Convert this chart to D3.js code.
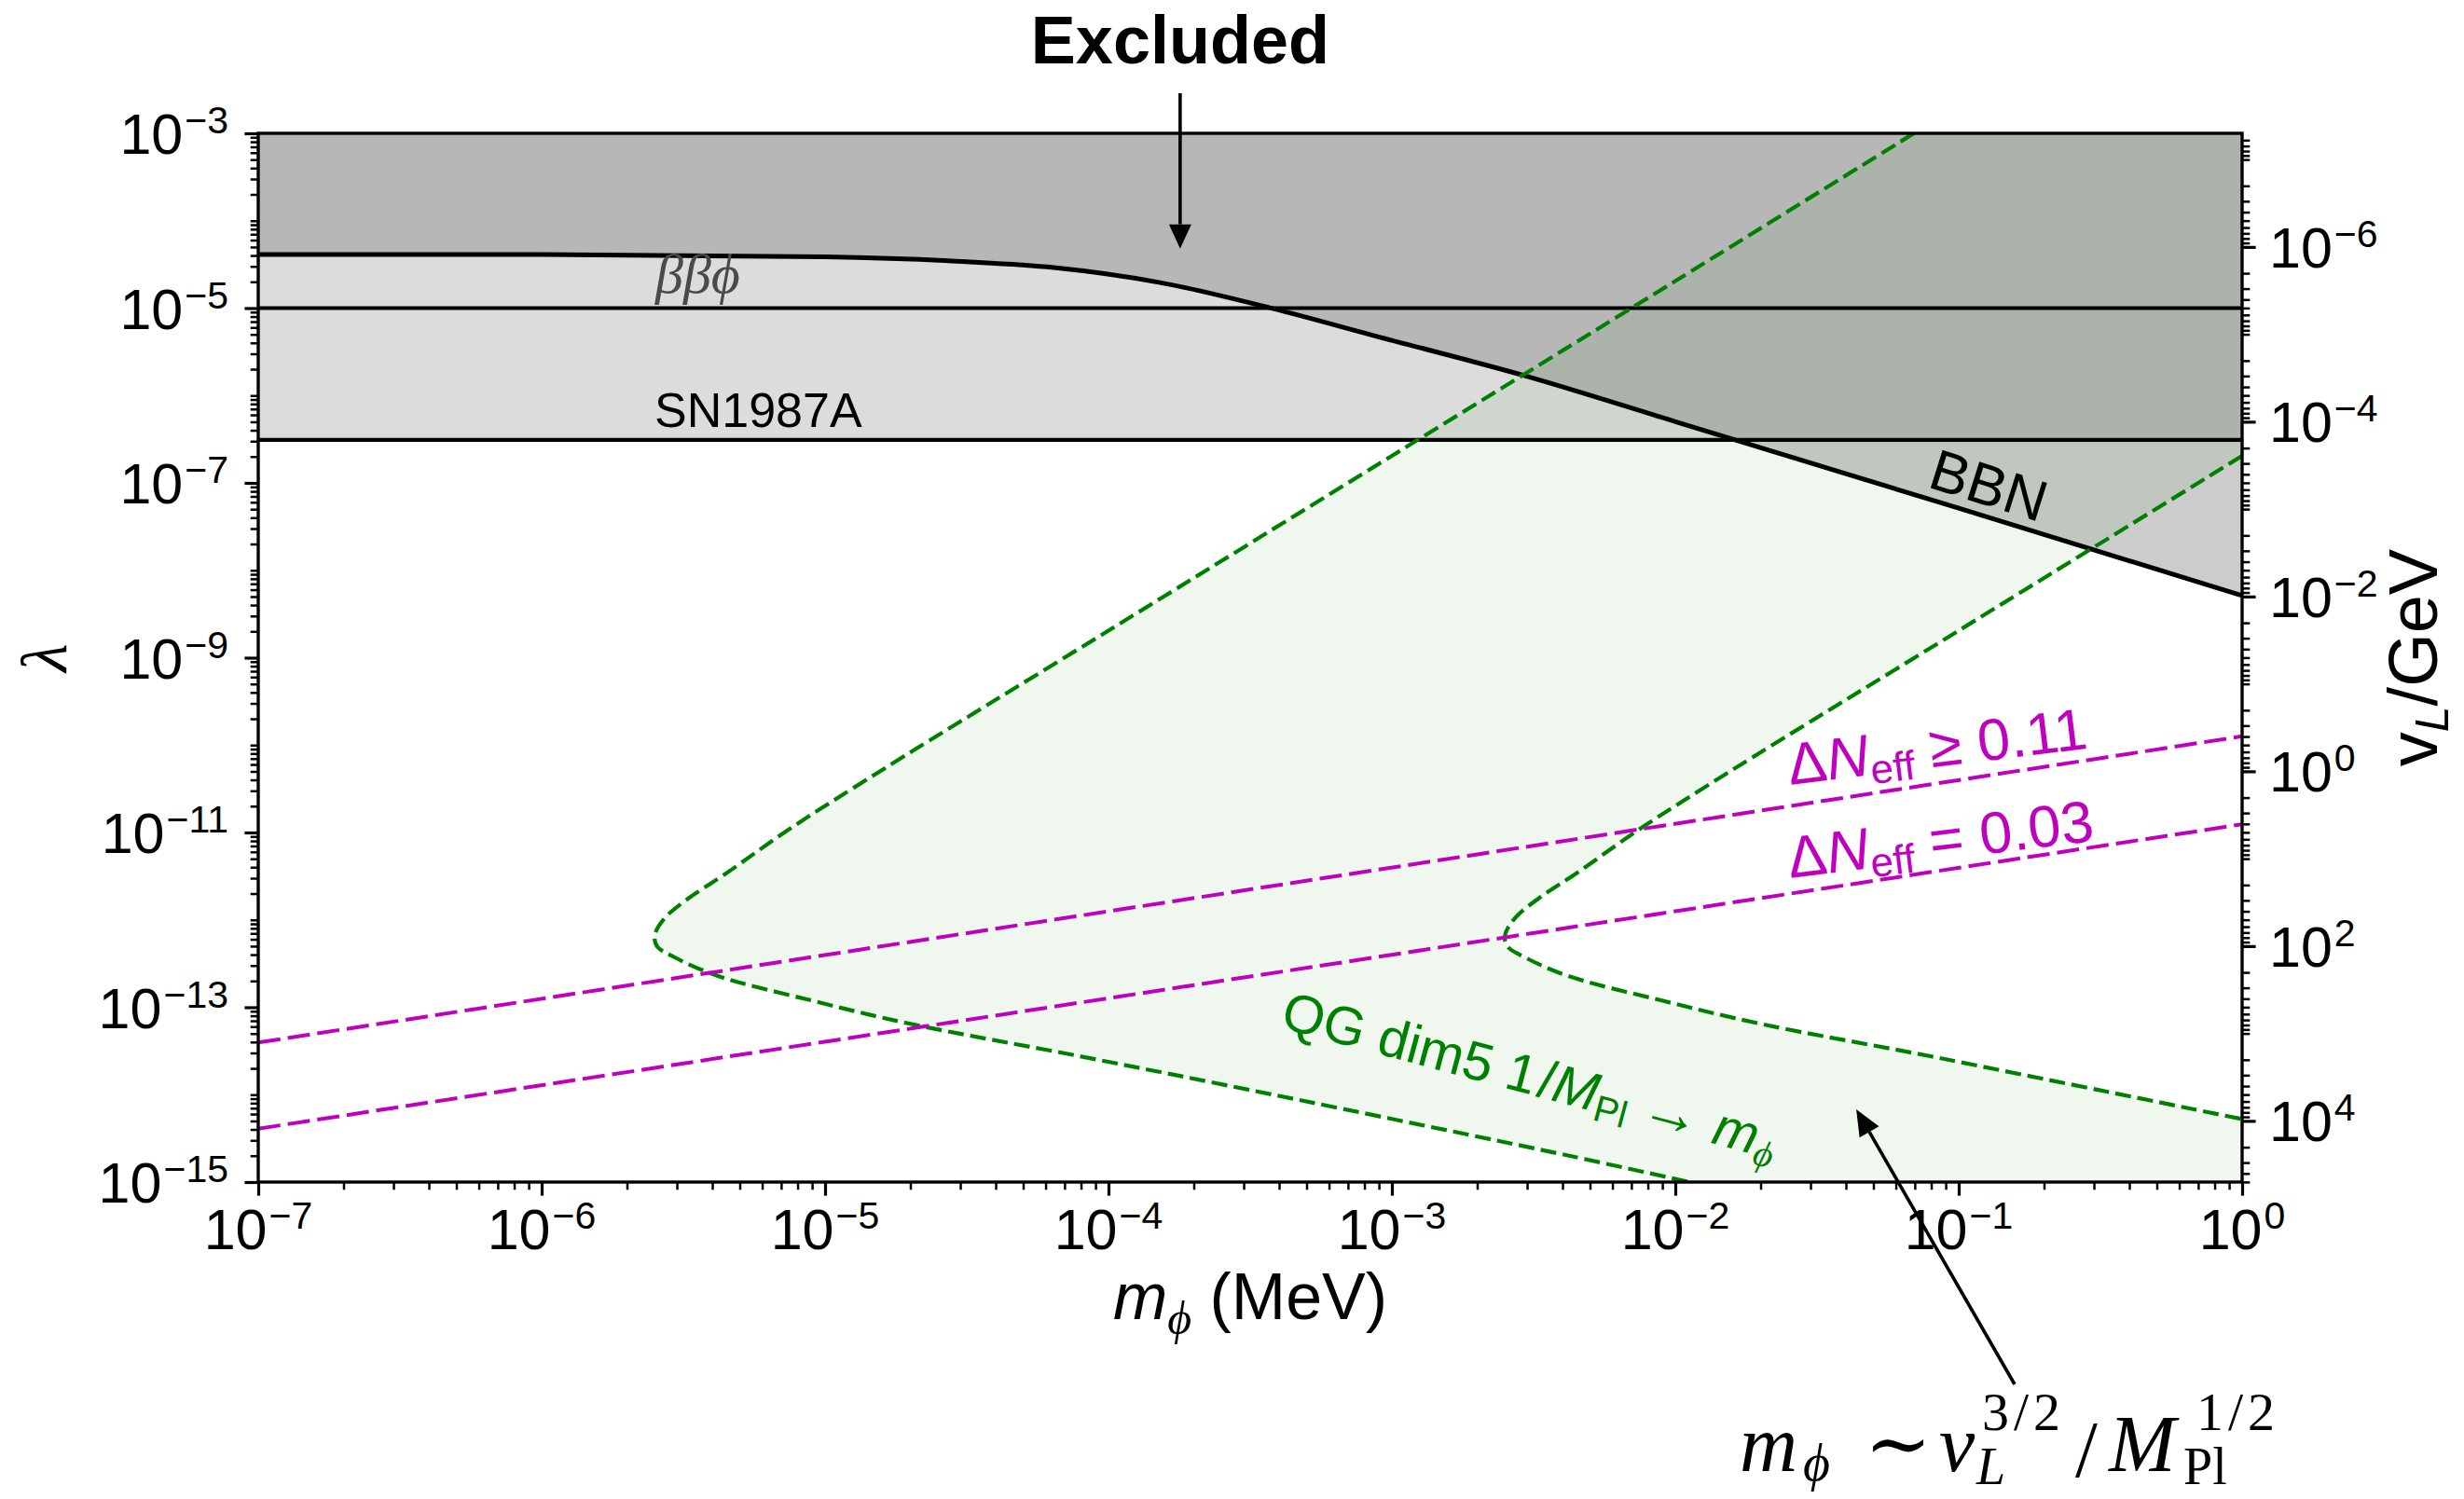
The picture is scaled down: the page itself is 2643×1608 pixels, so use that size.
<!DOCTYPE html>
<html>
<head>
<meta charset="utf-8">
<script src="https://cdn.jsdelivr.net/npm/d3@7"></script>
<style>
  html, body { margin: 0; padding: 0; background: #fff; }
  svg { display: block; }
</style>
</head>
<body>
<svg id="chart" width="2643" height="1608"></svg>
<script>
// ---- axis ranges ----
const massDomain = [1e-7, 1];                                  // m_phi (MeV)
const lambdaDomain = [1e-15, 1e-3];                            // lambda
const vevDomain = [Math.pow(10, -7.3), Math.pow(10, 4.7)];     // v_L / GeV (right axis)

// ---- tick labels (exponents of 10) ----
const xTickExps = [-7, -6, -5, -4, -3, -2, -1, 0];
const yTickExps = [-3, -5, -7, -9, -11, -13, -15];
const vTickExps = [-6, -4, -2, 0, 2, 4];

// ---- horizontal bounds ----
const lambdaBetaBetaPhi = 1e-5;
const lambdaSN1987A = 3.1e-7;

// ---- BBN bound ----
const bbnMass   = [1e-7, 1e-6, 1e-5, 3.16e-5, 6.4e-5, 1.52e-4, 3.79e-4, 8.65e-4, 2.93e-3, 1.02e-2, 0.1, 1];
const bbnLambda = [4.10e-5, 4.10e-5, 3.85e-5, 3.39e-5, 2.91e-5, 1.96e-5, 9.9e-6, 4.84e-6, 1.69e-6, 4.93e-7, 5.13e-8, 5.13e-9];

// ---- QG dim-5 band: two boundary curves ----
const qgLeftMass   = [6.95e-2, 1e-2, 1e-3, 1e-4, 1.58e-5, 7.41e-6, 4.47e-6, 3.31e-6, 2.72e-6, 2.51e-6, 2.55e-6, 2.95e-6, 4.17e-6, 8.91e-6, 2.0e-5, 7.94e-5, 3.80e-4, 4.22e-3, 1.12e-2];
const qgLeftLambda = [1e-3, 2.04e-5, 2.04e-7, 2.04e-9, 5.13e-11, 1.07e-11, 3.39e-12, 1.78e-12, 1.05e-12, 6.76e-13, 5.01e-13, 3.72e-13, 2.29e-13, 1.20e-13, 6.46e-14, 2.75e-14, 1.0e-14, 2.0e-15, 1e-15];
const qgRightMass   = [1, 0.1, 1.58e-2, 7.41e-3, 4.47e-3, 3.31e-3, 2.72e-3, 2.51e-3, 2.55e-3, 2.95e-3, 4.17e-3, 8.91e-3, 2.0e-2, 7.94e-2, 1];
const qgRightLambda = [2.04e-7, 2.04e-9, 5.13e-11, 1.07e-11, 3.39e-12, 1.78e-12, 1.05e-12, 6.76e-13, 5.01e-13, 3.72e-13, 2.29e-13, 1.20e-13, 6.46e-14, 2.75e-14, 5.25e-15];

// ---- Delta N_eff lines ----
const nEff011Mass = [1e-7, 1];
const nEff011Lambda = [3.95e-14, 1.26e-10];
const nEff003Mass = [1e-7, 1];
const nEff003Lambda = [4.08e-15, 1.24e-11];

// ---- annotation arrow tips (data coordinates) ----
const excludedTip = [1.79e-4, 4.8e-5];
const relationTip = [0.0435, 6.8e-15];

// ---- colours and fonts ----
const GREEN = "#008000";
const MAGENTA = "#bf00bf";
const SANS = "'Liberation Sans', Arial, Helvetica, sans-serif";
const SERIF = "'Liberation Serif', 'DejaVu Serif', serif";

// ---- layout ----
const W = 2643, H = 1608;
const P = { left: 277, right: 2405, top: 143, bottom: 1268 };

const svg = d3.select("#chart").style("font-family", SANS);
svg.append("rect").attr("width", W).attr("height", H).attr("fill", "#fff");

const x  = d3.scaleLog().domain(massDomain).range([P.left, P.right]);
const y  = d3.scaleLog().domain(lambdaDomain).range([P.bottom, P.top]);
const yR = d3.scaleLog().domain(vevDomain).range([P.top, P.bottom]);

svg.append("defs").append("clipPath").attr("id", "plotClip")
  .append("rect").attr("x", P.left).attr("y", P.top)
  .attr("width", P.right - P.left).attr("height", P.bottom - P.top);

const plot = svg.append("g").attr("clip-path", "url(#plotClip)");

// SN1987A excluded band (everything above its line)
plot.append("rect")
  .attr("x", x(massDomain[0])).attr("y", y(lambdaDomain[1]))
  .attr("width", x(massDomain[1]) - x(massDomain[0]))
  .attr("height", y(lambdaSN1987A) - y(lambdaDomain[1]))
  .attr("fill", "#dcdcdc");

// BBN excluded region (above the curve)
const bbnPts = d3.zip(bbnMass, bbnLambda);
plot.append("path").datum(bbnPts)
  .attr("d", d3.area().x(d => x(d[0])).y0(y(lambdaDomain[1])).y1(d => y(d[1])).curve(d3.curveMonotoneX))
  .attr("fill", "rgb(128,128,128)").attr("fill-opacity", 0.4);

// QG band fill between the two boundary curves
const qgLine = d3.line().x(d => x(d[0])).y(d => y(d[1])).curve(d3.curveCatmullRom.alpha(0.5));
const qgLeft = d3.zip(qgLeftMass, qgLeftLambda);
const qgRight = d3.zip(qgRightMass, qgRightLambda);
const bandPath =
  qgLine(qgLeft) +
  "L" + x(massDomain[1]) + "," + y(lambdaDomain[0]) +
  qgLine(qgRight.slice().reverse()).replace(/^M/, "L") +
  "L" + x(massDomain[1]) + "," + y(lambdaDomain[1]) + "Z";
plot.append("path").attr("d", bandPath)
  .attr("fill", GREEN).attr("fill-opacity", 0.063);

// horizontal bounds
[lambdaBetaBetaPhi, lambdaSN1987A].forEach(v => {
  plot.append("line")
    .attr("x1", x(massDomain[0])).attr("x2", x(massDomain[1]))
    .attr("y1", y(v)).attr("y2", y(v))
    .attr("stroke", "#000").attr("stroke-width", 4.2);
});

// BBN curve
plot.append("path").datum(bbnPts)
  .attr("d", d3.line().x(d => x(d[0])).y(d => y(d[1])).curve(d3.curveMonotoneX))
  .attr("fill", "none").attr("stroke", "#000").attr("stroke-width", 5);

// QG boundaries
[qgLeft, qgRight].forEach(pts => {
  plot.append("path").attr("d", qgLine(pts))
    .attr("fill", "none").attr("stroke", GREEN).attr("stroke-width", 4.2)
    .attr("stroke-dasharray", "17,7");
});

// Delta N_eff lines
const straight = d3.line().x(d => x(d[0])).y(d => y(d[1]));
[[nEff011Mass, nEff011Lambda], [nEff003Mass, nEff003Lambda]].forEach(([ms, ls]) => {
  plot.append("path").attr("d", straight(d3.zip(ms, ls)))
    .attr("fill", "none").attr("stroke", MAGENTA).attr("stroke-width", 4)
    .attr("stroke-dasharray", "24,8");
});

// ---- labels inside the plot ----
const labels = svg.append("g");

labels.append("text").attr("x", 703).attr("y", 314)
  .style("font-family", SERIF).style("font-style", "italic")
  .attr("font-size", 60).attr("fill", "#4a4a4a").text("ββϕ");

labels.append("text").attr("x", 702).attr("y", 458)
  .attr("font-size", 52).attr("fill", "#000").text("SN1987A");

labels.append("text").attr("transform", "translate(2066,522) rotate(17.5)")
  .attr("font-size", 62).attr("fill", "#000").text("BBN");

function neffLabel(px, py, rel, val) {
  const t = labels.append("text")
    .attr("transform", `translate(${px},${py}) rotate(-7)`)
    .attr("font-size", 63).attr("fill", MAGENTA);
  t.append("tspan").text("Δ");
  t.append("tspan").style("font-style", "italic").text("N");
  t.append("tspan").attr("font-size", 44).attr("dy", 10).text("eff");
  t.append("tspan").attr("dy", -10).text(" " + rel + " " + val);
}
neffLabel(1920, 842, "≥", "0.11");
neffLabel(1920, 942, "=", "0.03");

{
  const t = labels.append("text")
    .attr("transform", "translate(1372,1102) rotate(15)")
    .attr("font-size", 58).attr("fill", GREEN);
  t.append("tspan").text("QG dim5 1");
  t.append("tspan").attr("dx", 4).text("/");
  t.append("tspan").style("font-style", "italic").text("M");
  t.append("tspan").attr("font-size", 40).attr("dy", 9).text("Pl");
  t.append("tspan").attr("dy", -9).attr("dx", 14).attr("font-size", 64).text("→");
  t.append("tspan").attr("dx", 16).style("font-style", "italic").text("m");
  t.append("tspan").attr("font-size", 40).attr("dy", 10)
    .style("font-family", SERIF).style("font-style", "italic").text("ϕ");
}

// ---- frame and axes ----
const axes = svg.append("g");
axes.append("rect")
  .attr("x", P.left).attr("y", P.top)
  .attr("width", P.right - P.left).attr("height", P.bottom - P.top)
  .attr("fill", "none").attr("stroke", "#000").attr("stroke-width", 3.4);

function logMinor(domain, majorExps) {
  const lo = Math.log10(domain[0]), hi = Math.log10(domain[1]);
  const out = [];
  for (let n = Math.floor(lo) - 1; n <= Math.ceil(hi); n++) {
    for (let k = 1; k <= 9; k++) {
      const v = k * Math.pow(10, n);
      const lv = Math.log10(v);
      if (lv < lo - 1e-9 || lv > hi + 1e-9) continue;
      if (k === 1 && majorExps.includes(n)) continue;
      out.push(v);
    }
  }
  return out;
}

function tickSet(axisGen, scale, values, size, width, transform) {
  const g = axes.append("g").attr("transform", transform)
    .call(axisGen(scale).tickValues(values).tickSize(size).tickFormat(""));
  g.select(".domain").remove();
  g.selectAll(".tick line").attr("stroke", "#000").attr("stroke-width", width);
  g.selectAll(".tick text").remove();
}

const pow = e => Math.pow(10, e);
tickSet(d3.axisBottom, x, logMinor(massDomain, xTickExps), 8.3, 2.5, `translate(0,${P.bottom})`);
tickSet(d3.axisBottom, x, xTickExps.map(pow), 14.6, 3.2, `translate(0,${P.bottom})`);
tickSet(d3.axisLeft, y, logMinor(lambdaDomain, yTickExps), 8.3, 2.5, `translate(${P.left},0)`);
tickSet(d3.axisLeft, y, yTickExps.map(pow), 14.6, 3.2, `translate(${P.left},0)`);
tickSet(d3.axisRight, yR, logMinor(vevDomain, vTickExps), 8.3, 2.5, `translate(${P.right},0)`);
tickSet(d3.axisRight, yR, vTickExps.map(pow), 14.6, 3.2, `translate(${P.right},0)`);

function powerLabel(px, py, e, anchor) {
  const t = axes.append("text").attr("x", px).attr("y", py)
    .attr("text-anchor", anchor).attr("font-size", 61).attr("fill", "#000");
  t.append("tspan").text("10");
  t.append("tspan").attr("font-size", 41).attr("dy", -22).attr("dx", 2)
    .text(e < 0 ? "\u2212" + (-e) : String(e));
}
xTickExps.forEach(e => powerLabel(x(pow(e)), 1340, e, "middle"));
yTickExps.forEach(e => powerLabel(245, y(pow(e)) + 22, e, "end"));
vTickExps.forEach(e => powerLabel(2434, yR(pow(e)) + 22, e, "start"));

// axis titles
{
  const t = axes.append("text").attr("x", (P.left + P.right) / 2).attr("y", 1415)
    .attr("text-anchor", "middle").attr("font-size", 70).attr("fill", "#000");
  t.append("tspan").style("font-style", "italic").text("m");
  t.append("tspan").style("font-family", SERIF).style("font-style", "italic")
    .attr("font-size", 50).attr("dy", 16).text("ϕ");
  t.append("tspan").attr("dy", -16).text(" (MeV)");
}
axes.append("text")
  .attr("transform", `translate(71,${(P.top + P.bottom) / 2}) rotate(-90)`)
  .attr("text-anchor", "middle").style("font-family", SERIF).style("font-style", "italic")
  .attr("font-size", 70).attr("fill", "#000").text("λ");
{
  const t = axes.append("text")
    .attr("transform", `translate(2614,${(P.top + P.bottom) / 2}) rotate(-90)`)
    .attr("text-anchor", "middle").attr("font-size", 74).attr("fill", "#000");
  t.append("tspan").text("v");
  t.append("tspan").style("font-style", "italic").attr("font-size", 50).attr("dy", 12).text("L");
  t.append("tspan").attr("dy", -12).text("/GeV");
}

// ---- annotations ----
const ann = svg.append("g");

function arrow(x0, y0, x1, y1, headLen, headHalf, width) {
  const dx = x1 - x0, dy = y1 - y0, L = Math.hypot(dx, dy);
  const ux = dx / L, uy = dy / L;
  const bx = x1 - ux * headLen, by = y1 - uy * headLen;
  ann.append("line").attr("x1", x0).attr("y1", y0).attr("x2", bx).attr("y2", by)
    .attr("stroke", "#000").attr("stroke-width", width);
  ann.append("path")
    .attr("d", `M${x1},${y1}L${bx - uy * headHalf},${by + ux * headHalf}L${bx + uy * headHalf},${by - ux * headHalf}Z`)
    .attr("fill", "#000");
}

ann.append("text").attr("x", x(excludedTip[0])).attr("y", 68)
  .attr("text-anchor", "middle").attr("font-size", 72).attr("font-weight", "bold")
  .attr("fill", "#000").text("Excluded");
arrow(x(excludedTip[0]), 100, x(excludedTip[0]), y(excludedTip[1]), 26, 12, 3.6);

arrow(2161, 1485, x(relationTip[0]), y(relationTip[1]), 28, 12, 3.6);

// relation m_phi ~ v_L^{3/2} / M_Pl^{1/2}
{
  const f = ann.append("g").attr("fill", "#000");
  const big = 86, small = 56, sup = 58;
  const piece = (px, py, size, italic, str, spacing) =>
    f.append("text").attr("x", px).attr("y", py).attr("font-size", size)
      .attr("letter-spacing", spacing || 0)
      .style("font-family", SERIF).style("font-style", italic ? "italic" : "normal").text(str);
  piece(1866, 1578, big, true, "m");
  piece(1934, 1588, small, true, "ϕ");
  piece(2000, 1578, big, false, "∼");
  piece(2080, 1578, big, true, "v");
  piece(2120, 1592, small, true, "L");
  piece(2126, 1534, sup, false, "3/2", 5);
  piece(2226, 1584, big, false, "/");
  piece(2262, 1578, big, true, "M");
  piece(2342, 1592, small, false, "Pl");
  piece(2356, 1534, sup, false, "1/2", 5);
}
</script>
</body>
</html>
